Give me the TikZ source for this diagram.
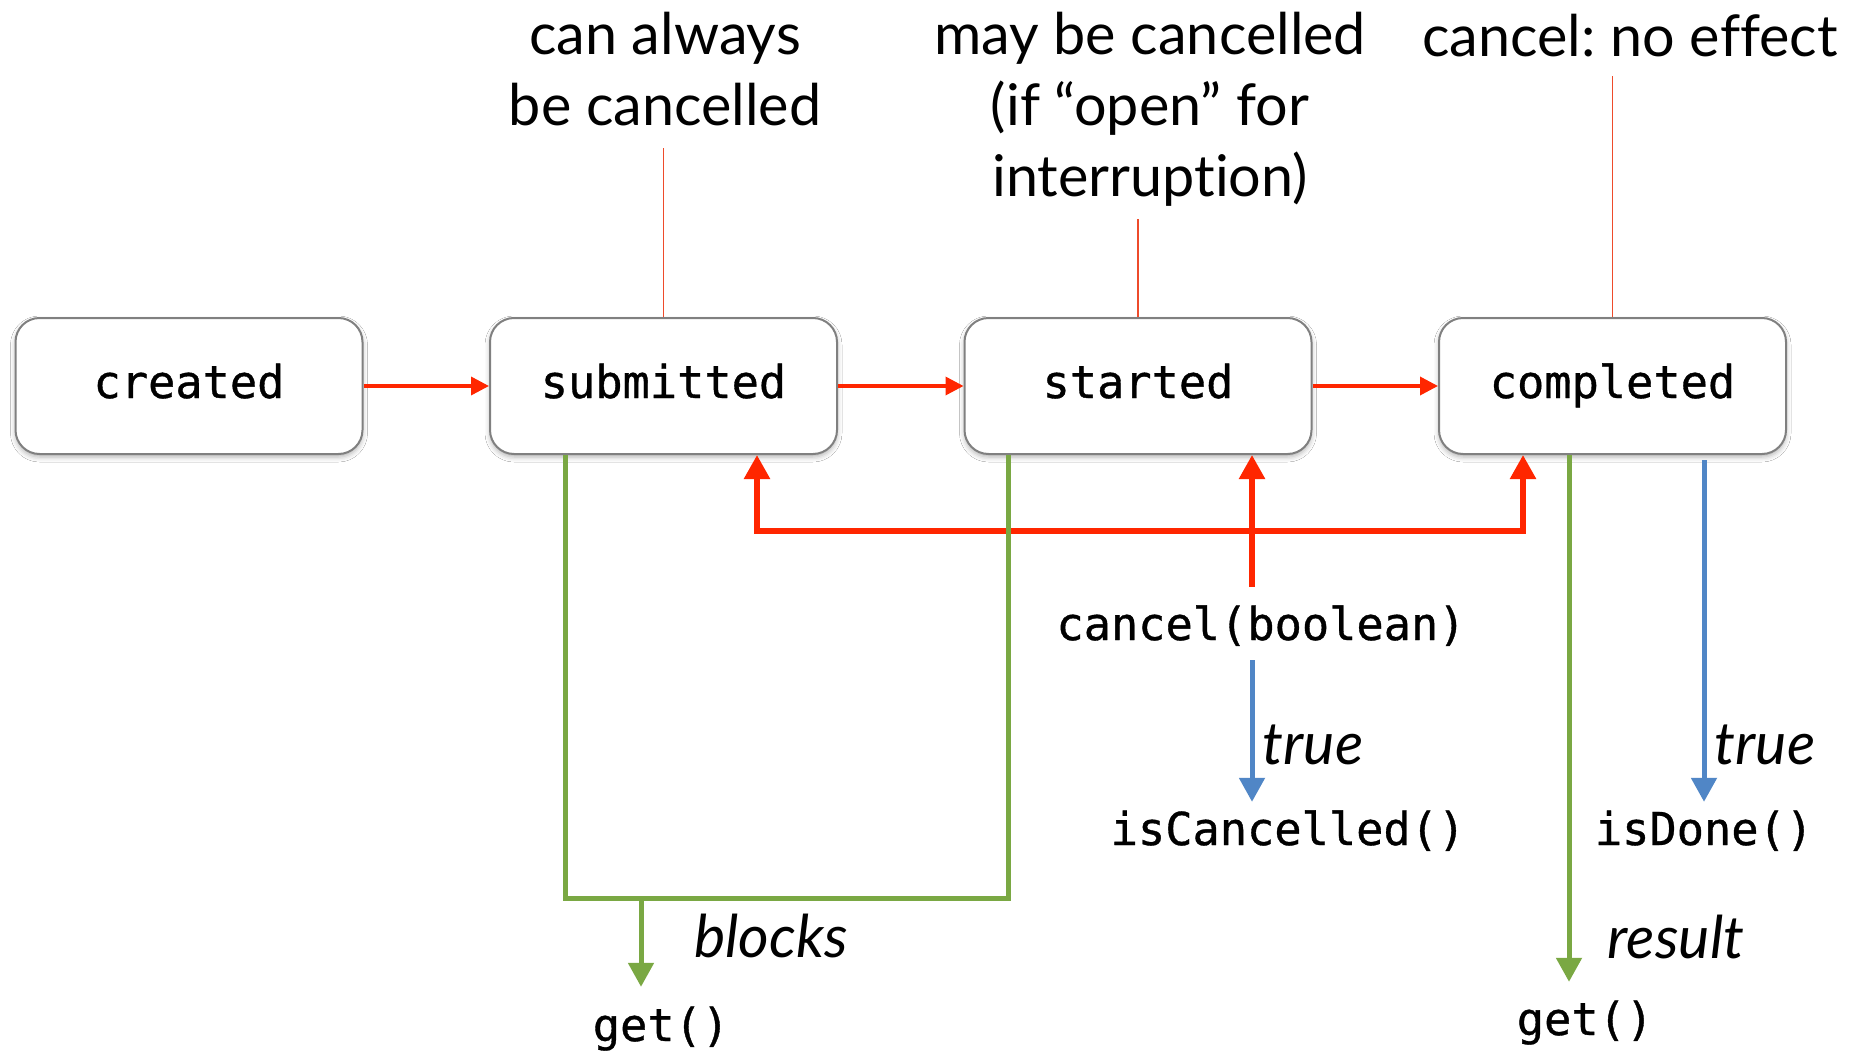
\documentclass[tikz,border=0pt]{standalone}
\usepackage{fontspec}
\setmainfont{Lato}[Ligatures=NoCommon]
\newfontfamily\codefont{DejaVu Sans Mono}[FakeBold=0.8]
\usetikzlibrary{arrows.meta,shadows.blur}
\frenchspacing

\definecolor{cred}{HTML}{FF2600}
\definecolor{cnote}{HTML}{EE4B2B}
\definecolor{cgreen}{HTML}{7AA843}
\definecolor{cblue}{HTML}{5086C6}
\definecolor{cborder}{HTML}{808080}

\tikzset{
  state/.style={draw=cborder, line width=2pt, fill=white, rounded corners=24pt,
    minimum width=347pt, minimum height=136pt, inner sep=0pt,
    font=\fontsize{45.3}{54}\codefont, text height=34pt, text depth=10pt,
    blur shadow={shadow xshift=0pt, shadow yshift=-3pt, shadow blur radius=5pt, shadow opacity=30}},
  code/.style={font=\fontsize{45.3}{54}\codefont, inner sep=0pt, anchor=base,
    text height=34pt, text depth=10pt},
  note/.style={font=\fontsize{57.5}{71}\selectfont, align=center, inner sep=0pt,
    text depth=0pt, anchor=south},
  tag/.style={font=\fontsize{59}{70}\selectfont\itshape, inner sep=0pt, anchor=base},
  bigtip/.style={-{Triangle[width=25pt,length=24pt]}},
  stepline/.style={draw=cred, line width=3.5pt, -{Triangle[width=18pt,length=18pt]}},
  cancelline/.style={draw=cred, line width=5.5pt},
  noteline/.style={draw=cnote, line width=1.5pt},
  getline/.style={draw=cgreen, line width=5pt},
  askline/.style={draw=cblue, line width=5pt},
}

\begin{document}
\begin{tikzpicture}[x=1pt, y=-1pt]
  \fill[white] (0,0) rectangle (1860,1054);
  \useasboundingbox (0,0) rectangle (1860,1054);

  % lifecycle states
  \node[state] (created)   at (189,386)    {created};
  \node[state] (submitted) at (663.5,386)  {submitted};
  \node[state] (started)   at (1138,386)   {started};
  \node[state] (completed) at (1612.5,386) {completed};

  \draw[stepline] (created)   -- (submitted);
  \draw[stepline] (submitted) -- (started);
  \draw[stepline] (started)   -- (completed);

  % remarks about cancelling in each state
  \node[note] (noteSub)   at (665,126)  {can always\\be cancelled};
  \node[note] (noteStart) at (1150,197) {may be cancelled\\(if “open” for\\interruption)};
  \node[note] (noteDone)  at (1630,57)  {cancel: no effect};

  \draw[noteline, shorten >=22pt] (submitted.north) -- (submitted.north |- noteSub.south);
  \draw[noteline, shorten >=22pt] (started.north) -- (started.north |- noteStart.south);
  \draw[noteline, shorten >=19pt] (completed.north) -- (completed.north |- noteDone.south);

  % method calls
  \node[code] (cancel)      at (1261,640)  {cancel(boolean)};
  \node[code] (iscancelled) at (1288,845)  {isCancelled()};
  \node[code] (isdone)      at (1704,845)  {isDone()};
  \node[code] (getblock)    at (661,1041)  {get()};
  \node[code] (getresult)   at (1585,1035) {get()};

  \node[tag] (trueC)  at (1313,764) {true};
  \node[tag] (trueD)  at (1765,764) {true};
  \node[tag] (blocks) at (771,957)  {blocks};
  \node[tag] (result) at (1676,958) {result};

  % cancel(boolean) acts on submitted, started and completed
  \coordinate (busL) at (757,531);
  \coordinate (busM) at (1252,531);
  \coordinate (busR) at (1523,531);
  \draw[cancelline, {Triangle[width=25pt,length=24pt]}-{Triangle[width=25pt,length=24pt]}]
    (busL |- submitted.south) -- (busL) -- (busR) -- (busR |- completed.south);
  \draw[cancelline, bigtip, shorten <=19pt] (cancel.north -| busM) -- (busM |- started.south);

  % true results
  \draw[askline, bigtip, shorten <=10pt, shorten >=9pt]
    (busM |- cancel.south) -- (busM |- iscancelled.north);
  \draw[askline, bigtip, shorten <=5pt, shorten >=9pt]
    (isdone.north |- completed.south) -- (isdone.north);

  % get() blocks while submitted or started
  \coordinate (gL) at (565,898);
  \coordinate (gM) at (641,898);
  \coordinate (gR) at (1008,898);
  \draw[getline, line join=miter] (gL |- submitted.south) -- (gL) -- (gR) -- (gR |- started.south);
  \draw[getline, bigtip, shorten >=20pt] (gM) -- (gM |- getblock.north);

  % get() returns the result once completed
  \coordinate (gC) at (1569,700);
  \draw[getline, bigtip, shorten >=19pt] (gC |- completed.south) -- (gC |- getresult.north);
\end{tikzpicture}
\end{document}
